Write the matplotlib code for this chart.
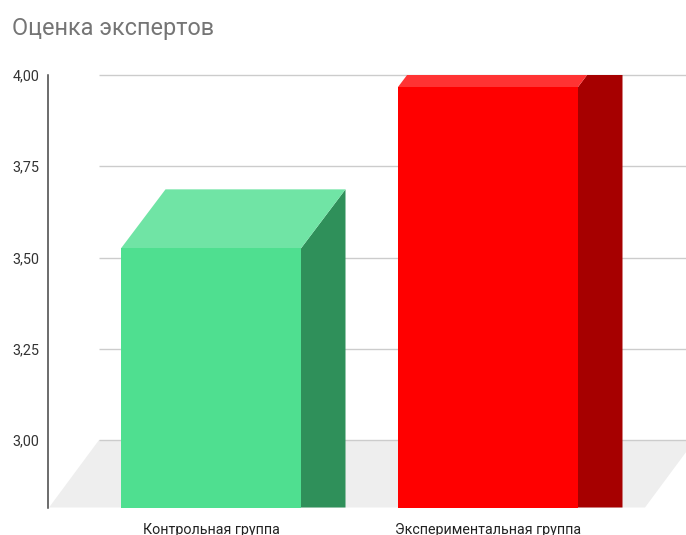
import matplotlib
matplotlib.use("Agg")
import matplotlib.pyplot as plt
from matplotlib.patches import Polygon

plt.rcParams['font.family'] = ['Roboto', 'DejaVu Sans']

categories = ["Контрольная группа", "Экспериментальная группа"]
values = [3.71, 4.152]
tick_values = [3.00, 3.25, 3.50, 3.75, 4.00]
tick_labels = ["3,00", "3,25", "3,50", "3,75", "4,00"]
title = "Оценка экспертов"

front_colors = ["#4FDF90", "#FF0000"]
top_colors = ["#70E4A5", "#FF3333"]
side_colors = ["#2F905A", "#A60000"]

W, H = 686, 535
fig = plt.figure(figsize=(W / 100, H / 100), dpi=100)
L, R, T, B = 47.5, 686.0, 75.0, 507.5
ax = fig.add_axes([L / W, 1 - B / H, (R - L) / W, (B - T) / H])

PX_Y = 365.0      # pixels per value unit
PX_X = 277.0      # pixels per category step
C0 = 211.0        # pixel centre of first bar
ax.set_xlim((L - C0) / PX_X, (R - C0) / PX_X)
floor_shift = 67.5 / PX_Y
ax.set_ylim(3.0 - floor_shift, 4.0)

bar_w = 180 / PX_X
bar_dx, bar_dy = 44.5 / PX_X, 59 / PX_Y
floor_dx = 50 / PX_X
floor_x0, floor_x1 = (49 - C0) / PX_X, (645 - C0) / PX_X
base = 3.0 - floor_shift

ax.add_patch(Polygon([(floor_x0, base), (floor_x1, base),
                      (floor_x1 + floor_dx, 3.0), (floor_x0 + floor_dx, 3.0)],
                     closed=True, fc="#EEEEEE", ec="none", zorder=1))
ax.hlines(tick_values, floor_x0 + floor_dx, ax.get_xlim()[1], color="#CCCCCC",
          lw=1.0, zorder=2, clip_on=False)

for i, v in enumerate(values):
    x0, x1 = i - bar_w / 2, i + bar_w / 2
    top = v - floor_shift
    ax.bar(i, top - base, bottom=base, width=bar_w, color=front_colors[i], zorder=4)
    ax.add_patch(Polygon([(x1, base), (x1 + bar_dx, base),
                          (x1 + bar_dx, top + bar_dy), (x1, top)],
                         closed=True, fc=side_colors[i], ec="none", zorder=3))
    ax.add_patch(Polygon([(x0, top), (x1, top), (x1 + bar_dx, top + bar_dy),
                          (x0 + bar_dx, top + bar_dy)],
                         closed=True, fc=top_colors[i], ec="none", zorder=3))

for s in ["top", "right", "bottom"]:
    ax.spines[s].set_visible(False)
ax.spines["left"].set_color("#444444")
ax.spines["left"].set_linewidth(1.1)
ax.spines["left"].set_zorder(5)

ax.set_yticks(tick_values, tick_labels, fontsize=10.4, color="#333333")
ax.set_xticks(range(len(categories)), categories, fontsize=10.3, color="#222222")
ax.tick_params(axis="both", length=0)
ax.tick_params(axis="y", pad=6)
ax.tick_params(axis="x", pad=11)

fig.text(12 / W, 1 - 28 / H, title, fontsize=16.9, color="#757575",
         ha="left", va="center")

fig.savefig("out.png", dpi=100, facecolor="white")
